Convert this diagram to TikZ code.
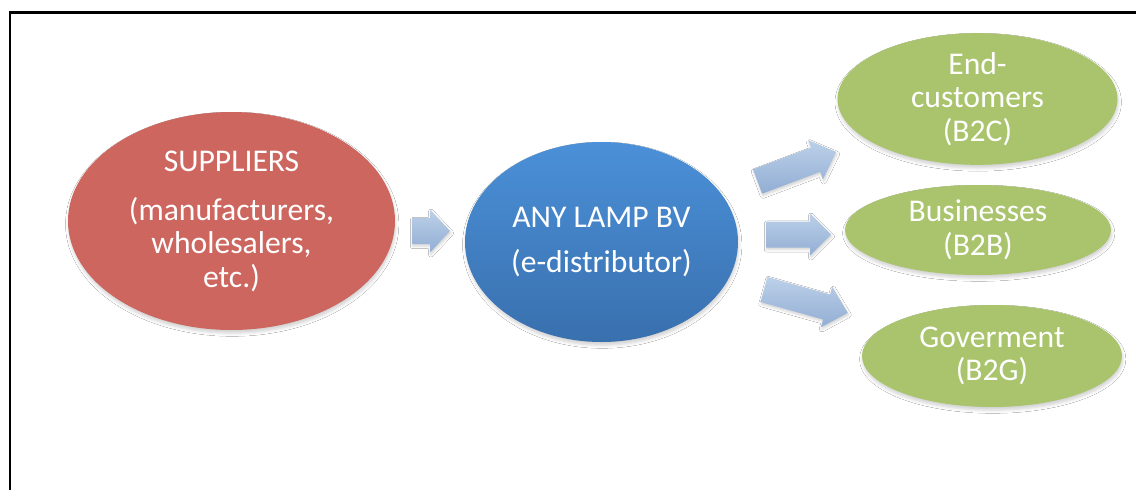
\documentclass[tikz,border=0pt]{standalone}
\usepackage{fontspec}
\setmainfont{Carlito}
\usetikzlibrary{shapes.geometric,shadows.blur}
\definecolor{supred}{HTML}{CD665F}
\definecolor{bluetop}{HTML}{4B90D8}
\definecolor{bluebot}{HTML}{3970AE}
\definecolor{custgreen}{HTML}{A9C46C}
\definecolor{arrtop}{HTML}{BCD0E8}
\definecolor{arrbot}{HTML}{92AED4}
\tikzset{
  oval/.style={ellipse, inner sep=0pt, text=white, align=center,
    font=\fontsize{18}{19}\selectfont,
    blur shadow={shadow xshift=0.4pt, shadow yshift=-1.8pt, shadow blur radius=1.8pt, shadow opacity=18}},
  blockarrow/.style={top color=arrtop, bottom color=arrbot, draw=none,
    blur shadow={shadow xshift=0.5pt, shadow yshift=-1.2pt, shadow blur radius=1.5pt, shadow opacity=18}},
  frame/.style={draw=black, line width=1.2pt}
}
\begin{document}
\begin{tikzpicture}[x=0.02cm, y=-0.02cm]
\useasboundingbox (0,0) rectangle (1136,490);
\fill[white] (0,0) rectangle (1136,490);
\draw[frame] (10,12.5) rectangle (1160,520);

\node[oval, fill=supred, minimum width=327*0.02cm, minimum height=218*0.02cm] (sup) at (231.5,221)
  {SUPPLIERS\\[9pt](manufacturers,\\wholesalers,\\etc.)};
\node[oval, top color=bluetop, bottom color=bluebot, minimum width=273*0.02cm, minimum height=200*0.02cm] (lamp) at (601.5,242)
  {ANY LAMP BV\\[7pt](e-distributor)};
\node[oval, fill=custgreen, minimum width=280*0.02cm, minimum height=116*0.02cm] (b2c) at (977.5,99)
  {End-\\customers\\(B2C)};
\node[oval, fill=custgreen, minimum width=266*0.02cm, minimum height=90*0.02cm] (b2b) at (978,230)
  {Businesses\\(B2B)};
\node[oval, fill=custgreen, minimum width=260*0.02cm, minimum height=102*0.02cm] (b2g) at (992,356)
  {Goverment\\(B2G)};

% block arrows: local coords, tail at origin, pointing along +x
\begin{scope}[shift={(412,231)}]
  \path[blockarrow] (0,-13) -- (18,-13) -- (18,-21.5) -- (38,0) -- (18,21.5) -- (18,13) -- (0,13) -- cycle;
\end{scope}
\begin{scope}[shift={(757.5,181.5)}, rotate=20.6]
  \path[blockarrow] (0,-13) -- (62,-13) -- (62,-21) -- (84,0) -- (62,21) -- (62,13) -- (0,13) -- cycle;
\end{scope}
\begin{scope}[shift={(766,234.5)}]
  \path[blockarrow] (0,-13) -- (44,-13) -- (44,-21) -- (65,0) -- (44,21) -- (44,13) -- (0,13) -- cycle;
\end{scope}
\begin{scope}[shift={(764,289.5)}, rotate=-15.6]
  \path[blockarrow] (0,-13) -- (65,-13) -- (65,-21) -- (87,0) -- (65,21) -- (65,13) -- (0,13) -- cycle;
\end{scope}
\end{tikzpicture}
\end{document}
